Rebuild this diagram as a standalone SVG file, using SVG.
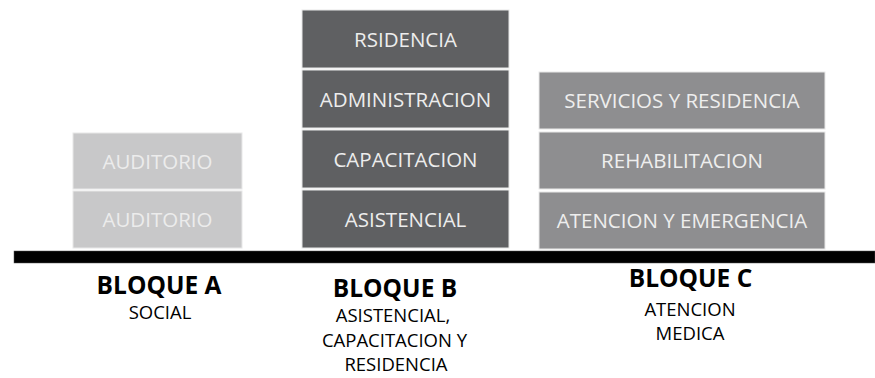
<svg xmlns="http://www.w3.org/2000/svg" width="875" height="378" viewBox="0 0 875 378">
<style>
.box{stroke:#e8e8e8;stroke-width:1}
.a{fill:#c8c8c9}
.b{fill:#5f6062}
.c{fill:#8e8e90}
.bt{font-family:"Open Sans","Noto Sans",sans-serif;font-size:20.5px;text-anchor:middle}
.ta{fill:#ececec}
.tb{fill:#ededed}
.tc{fill:#eeeeee}
.h{font-family:"Open Sans","Noto Sans",sans-serif;font-size:24.5px;font-weight:bold;fill:#000;text-anchor:middle}
.s{font-family:"Open Sans","Noto Sans",sans-serif;font-size:18.5px;fill:#000;text-anchor:middle}
</style>
<rect width="875" height="378" fill="#fff"/>
<g id="bloque-a">
<rect class="box a" x="73" y="133" width="169" height="56"/>
<text class="bt ta" x="157.5" y="168.5">AUDITORIO</text>
<rect class="box a" x="73" y="191" width="169" height="57"/>
<text class="bt ta" x="157.5" y="227">AUDITORIO</text>
</g>
<g id="bloque-b">
<rect class="box b" x="302" y="10" width="207" height="58"/>
<text class="bt tb" x="405.5" y="46.5">RSIDENCIA</text>
<rect class="box b" x="302" y="70" width="207" height="58"/>
<text class="bt tb" x="405.5" y="106.5">ADMINISTRACION</text>
<rect class="box b" x="302" y="130" width="207" height="58"/>
<text class="bt tb" x="405.5" y="166.5">CAPACITACION</text>
<rect class="box b" x="302" y="190" width="207" height="58"/>
<text class="bt tb" x="405.5" y="226.5">ASISTENCIAL</text>
</g>
<g id="bloque-c">
<rect class="box c" x="539" y="72" width="286" height="57"/>
<text class="bt tc" x="682" y="108">SERVICIOS Y RESIDENCIA</text>
<rect class="box c" x="539" y="132" width="286" height="57"/>
<text class="bt tc" x="682" y="168">REHABILITACION</text>
<rect class="box c" x="539" y="192" width="286" height="57"/>
<text class="bt tc" x="682" y="228">ATENCION Y EMERGENCIA</text>
</g>
<g id="ground">
<rect x="14" y="251" width="861" height="12" fill="#000" stroke="#555" stroke-width="0.5"/>
</g>
<g id="labels">
<text class="h" x="159" y="294">BLOQUE A</text>
<text class="s" x="160" y="319">SOCIAL</text>
<text class="h" x="395" y="297">BLOQUE B</text>
<text class="s" x="393" y="322">ASISTENCIAL,</text>
<text class="s" x="394.5" y="346.5">CAPACITACION Y</text>
<text class="s" x="396" y="371">RESIDENCIA</text>
<text class="h" x="690.5" y="287">BLOQUE C</text>
<text class="s" x="690" y="316">ATENCION</text>
<text class="s" x="690" y="340">MEDICA</text>
</g>
<g id="connectors"/>
</svg>
